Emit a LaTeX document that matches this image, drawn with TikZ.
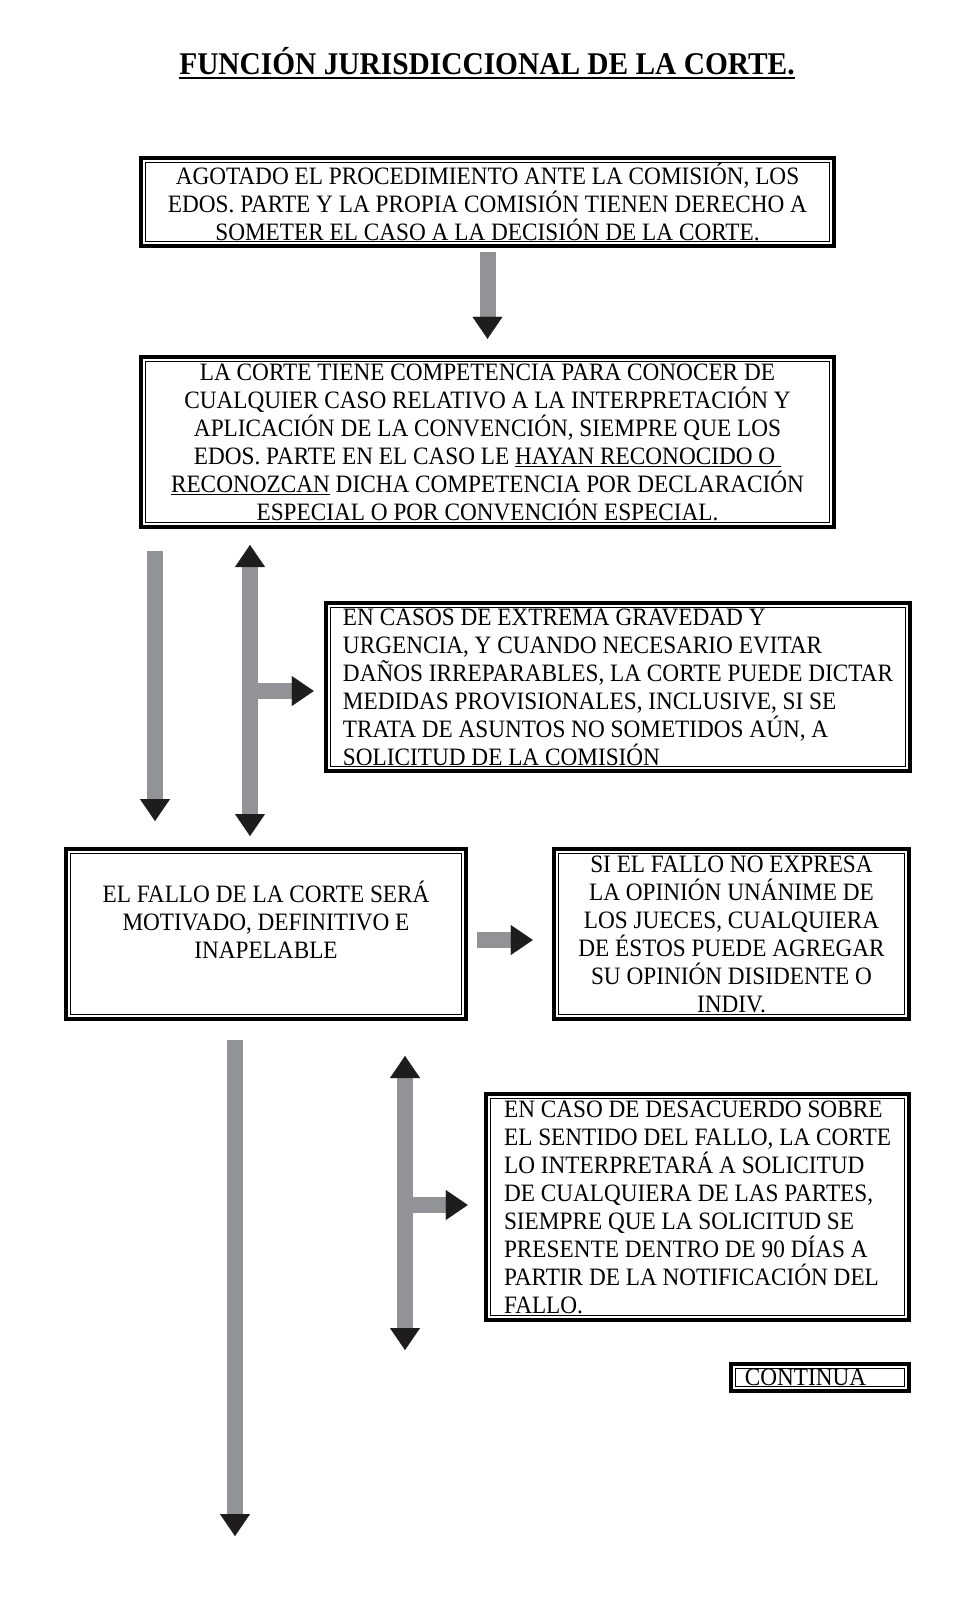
\documentclass[tikz,border=0pt]{standalone}
\usepackage{fontspec}
\setmainfont{Liberation Serif}[FakeStretch=0.93]
\usetikzlibrary{arrows.meta,calc}
\definecolor{shaftgray}{RGB}{146,147,151}
\definecolor{headblack}{RGB}{30,28,29}
\newcommand\myul[2][1.3pt]{\vtop{\hbox{#2}\kern1.5pt\hrule height #1}}
\begin{document}
\begin{tikzpicture}[x=1pt,y=-1pt,
  every node/.style={inner sep=0pt, outer sep=0pt},
  dblbox/.style={draw=black, line width=3.8pt, font=\fontsize{25}{28}\selectfont},
  innerline/.style={draw=black, line width=1.4pt},
  fat/.style={draw=shaftgray, line width=16pt},
  tip/.style={-{Triangle[width=30pt,length=22pt,color=headblack,fill=headblack,line width=0.1pt,sep=2pt]}},
  dtip/.style={{Triangle[width=30pt,length=22pt,color=headblack,fill=headblack,line width=0.1pt,sep=2pt]}-{Triangle[width=30pt,length=22pt,color=headblack,fill=headblack,line width=0.1pt,sep=2pt]}},
  titlestyle/.style={font=\fontsize{31.6}{36}\selectfont\bfseries}
]
\fill[white] (0,0) rectangle (964,1612);
\useasboundingbox (0,0) rectangle (964,1612);

\node[titlestyle] (title) at (487,63) {\myul[2pt]{FUNCIÓN JURISDICCIONAL DE LA CORTE.}};

\node[dblbox, minimum width=693.5, minimum height=88.5, align=center] (b1) at (487.5,202)
 {AGOTADO EL PROCEDIMIENTO ANTE LA COMISIÓN, LOS\\EDOS. PARTE Y LA PROPIA COMISIÓN TIENEN DERECHO A\\SOMETER EL CASO A LA DECISIÓN DE LA CORTE.};

\node[dblbox, minimum width=693.5, minimum height=170.5, align=center] (b2) at (487.5,442)
 {LA CORTE TIENE COMPETENCIA PARA CONOCER DE\\CUALQUIER CASO RELATIVO A LA INTERPRETACIÓN Y\\APLICACIÓN DE LA CONVENCIÓN, SIEMPRE QUE LOS\\EDOS. PARTE EN EL CASO LE \myul{HAYAN RECONOCIDO O\ }\\\myul{RECONOZCAN} DICHA COMPETENCIA POR DECLARACIÓN\\ESPECIAL O POR CONVENCIÓN ESPECIAL.};

\node[dblbox, minimum width=584.5, minimum height=168.5, align=left] (b3) at (618,687)
 {EN CASOS DE EXTREMA GRAVEDAD Y\\URGENCIA, Y CUANDO NECESARIO EVITAR\\DAÑOS IRREPARABLES, LA CORTE PUEDE DICTAR\\MEDIDAS PROVISIONALES, INCLUSIVE, SI SE\\TRATA DE ASUNTOS NO SOMETIDOS AÚN, A\\SOLICITUD DE LA COMISIÓN};

\node[dblbox, minimum width=400.5, minimum height=170.5, align=center] (b4) at (266,934)
 {EL FALLO DE LA CORTE SERÁ\\MOTIVADO, DEFINITIVO E\\INAPELABLE\\\mbox{}};

\node[dblbox, minimum width=355.5, minimum height=170.5, align=center] (b5) at (731.5,934)
 {SI EL FALLO NO EXPRESA\\LA OPINIÓN UNÁNIME DE\\LOS JUECES, CUALQUIERA\\DE ÉSTOS PUEDE AGREGAR\\SU OPINIÓN DISIDENTE O\\INDIV.};

\node[dblbox, minimum width=423.5, minimum height=226.5, align=left] (b6) at (697.5,1207)
 {EN CASO DE DESACUERDO SOBRE\\EL SENTIDO DEL FALLO, LA CORTE\\LO INTERPRETARÁ A SOLICITUD\\DE CUALQUIERA DE LAS PARTES,\\SIEMPRE QUE LA SOLICITUD SE\\PRESENTE DENTRO DE 90 DÍAS A\\PARTIR DE LA NOTIFICACIÓN DEL\\FALLO.};

\node[dblbox, minimum width=178.5, minimum height=27.5, text width=150.5, align=left] (b7) at (820,1377.5)
 {CONTINUA};

\foreach \n in {b1,b2,b3,b4,b5,b6,b7}
  \draw[innerline] ($(\n.north west)+(4.8,4.8)$) rectangle ($(\n.south east)+(-4.8,-4.8)$);

% connectors
\draw[fat,tip] ($(b1.south)+(0,6)$) -- ($(b2.north)+(0,-16)$);

\coordinate (p1) at (155,551);
\coordinate (q1) at (155,823);
\draw[fat,tip] (p1) -- (q1);

\coordinate (p2) at (250,543);
\coordinate (q2) at (250,838);
\draw[fat,dtip] (p2) -- (q2);
\coordinate (r2) at (250,691);
\draw[fat,tip] (r2) -- ($(b3.west|-r2)+(-10,0)$);

\draw[fat,tip] ($(b4.east)+(11,6)$) -- ($(b5.west)+(-19,6)$);

\coordinate (p3) at (235,1040);
\coordinate (q3) at (235,1538);
\draw[fat,tip] (p3) -- (q3);

\coordinate (p4) at (405,1054);
\coordinate (q4) at (405,1352);
\draw[fat,dtip] (p4) -- (q4);
\coordinate (r4) at (405,1205);
\draw[fat,tip] (r4) -- ($(b6.west|-r4)+(-16,0)$);
\end{tikzpicture}
\end{document}
